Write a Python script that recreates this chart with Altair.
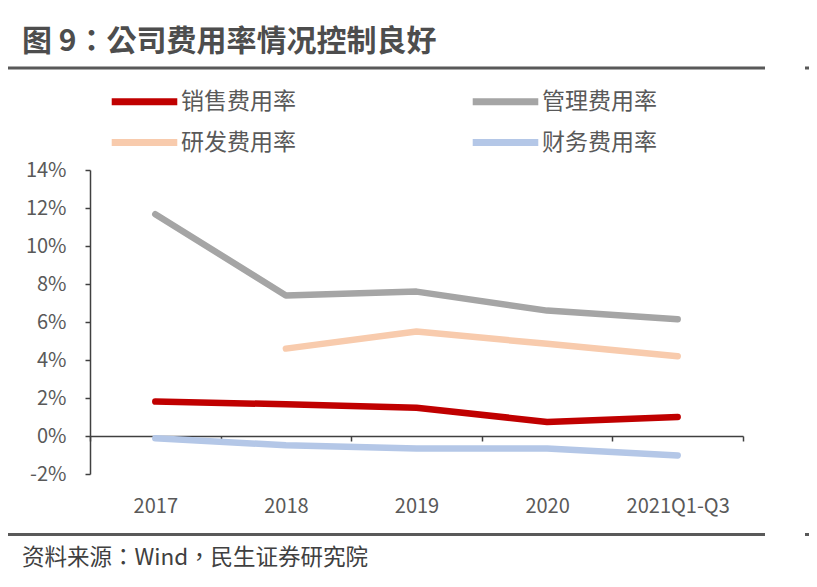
import altair as alt
import pandas as pd

FONT = "Noto Sans CJK SC"
FONT_TC = "Noto Sans CJK TC"

categories = ["2017", "2018", "2019", "2020", "2021Q1-Q3"]
series_names = ["销售费用率", "管理费用率", "研发费用率", "财务费用率"]
selling = [1.81, 1.67, 1.49, 0.74, 1.00]
admin = [11.67, 7.40, 7.60, 6.60, 6.14]
rnd = [None, 4.60, 5.50, 4.85, 4.20]
finance = [-0.12, -0.49, -0.66, -0.66, -1.02]
colors = ["#C00000", "#A5A5A5", "#F8CBAD", "#B4C7E7"]
y_ticks = [-2, 0, 2, 4, 6, 8, 10, 12, 14]
title_text = "图 9：公司费用率情况控制良好"
source_text = "资料来源：Wind，民生证券研究院"

rows = []
for name, vals in zip(series_names, [selling, admin, rnd, finance]):
    for c, v in zip(categories, vals):
        if v is not None:
            rows.append({"cat": c, "series": name, "value": v})
df = pd.DataFrame(rows)

lines = alt.Chart(df).mark_line(
    interpolate="linear", strokeWidth=6.5, strokeCap="round", strokeJoin="round"
).encode(
    x=alt.X(
        "cat:N", sort=categories, bandPosition=0.5,
        scale=alt.Scale(type="band", paddingInner=0, paddingOuter=0),
        axis=alt.Axis(
            title=None, offset=-38, tickBand="extent", labelAngle=0,
            domainColor="#404040", tickColor="#404040", domainWidth=1.5, tickWidth=1.5,
            tickSize=5, labelFontSize=20, labelFont=FONT, labelColor="#595959",
            labelPadding=55, grid=False,
        ),
    ),
    y=alt.Y(
        "value:Q",
        scale=alt.Scale(domain=[-2, 14], nice=False, zero=False),
        axis=alt.Axis(
            title=None, values=y_ticks, labelExpr="datum.value + '%'",
            domainColor="#404040", tickColor="#404040", domainWidth=1.5, tickWidth=1.5,
            tickSize=5, labelFontSize=20, labelFont=FONT, labelColor="#595959",
            labelPadding=19, grid=False,
        ),
    ),
    color=alt.Color(
        "series:N",
        scale=alt.Scale(domain=series_names, range=colors),
        legend=alt.Legend(
            title=None, orient="none", legendX=18, legendY=-80, columns=2,
            direction="horizontal",
            symbolType="stroke", symbolSize=4300, symbolStrokeWidth=7,
            labelFontSize=23, labelFont=FONT, labelColor="#595959",
            columnPadding=173, rowPadding=17, labelOffset=0, padding=0,
            clipHeight=23,
        ),
    ),
)

title = alt.Chart(pd.DataFrame({"t": [title_text]})).mark_text(
    align="left", baseline="middle", fontSize=30, fontWeight="bold",
    font=FONT_TC, color="#4D4D4D",
).encode(x=alt.value(-68), y=alt.value(-128), text="t:N")

src = alt.Chart(pd.DataFrame({"t": [source_text]})).mark_text(
    align="left", baseline="middle", fontSize=22.5, font=FONT_TC, color="#404040",
).encode(x=alt.value(-68), y=alt.value(388), text="t:N")

rule_df = pd.DataFrame({"a": [0]})
top_rule = alt.Chart(rule_df).mark_rule(color="#595959", strokeWidth=3).encode(
    x=alt.value(-85), x2=alt.value(675), y=alt.value(-102))
top_dash = alt.Chart(rule_df).mark_rule(color="#595959", strokeWidth=3).encode(
    x=alt.value(715), x2=alt.value(730), y=alt.value(-102))
bot_rule = alt.Chart(rule_df).mark_rule(color="#595959", strokeWidth=3).encode(
    x=alt.value(-85), x2=alt.value(675), y=alt.value(364.5))
bot_dash = alt.Chart(rule_df).mark_rule(color="#595959", strokeWidth=3).encode(
    x=alt.value(715), x2=alt.value(730), y=alt.value(364.5))

chart = alt.layer(lines, title, src, top_rule, top_dash, bot_rule, bot_dash).properties(
    width=653, height=304,
    autosize=alt.AutoSizeParams(type="none"),
    padding={"left": 82, "top": 162, "right": 66, "bottom": 105},
).configure_view(stroke=None)

chart.save("out.html", embed_options={"renderer": "svg", "actions": False})
